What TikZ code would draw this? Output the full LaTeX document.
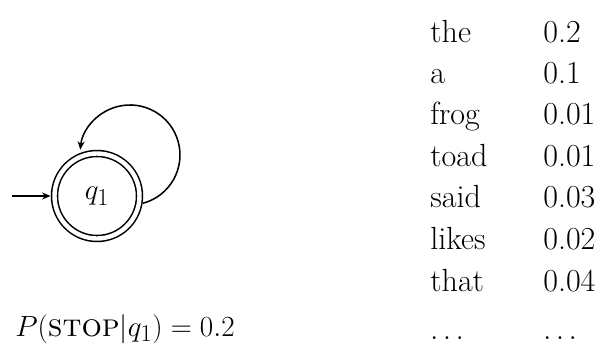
\documentclass[tikz,border=0pt]{standalone}
\usepackage{amsmath}
\usepackage{tikz}
\usetikzlibrary{positioning, arrows.meta}

\newcommand{\bigtxt}{\fontsize{22.8}{27}\selectfont}

\begin{document}
\begin{tikzpicture}[every node/.style={font=\bigtxt, inner sep=0pt},
    entry/.style={anchor=base west},
    >={Stealth[length=6pt, width=5pt]}]
  \useasboundingbox (0,0) rectangle (15.1,8.675);

  % State with its self loop
  \node[draw, circle, double, line width=1.1pt, double distance=0.11cm,
        minimum size=2.125cm, outer sep=0.1cm] (q1) at (2.425,3.775) {$q_1$};
  \coordinate (start) at (0.3,3.775);
  \draw[->, line width=1pt] (start) -- (q1);
  \draw[->, line width=1.1pt] (q1.-9) arc[start angle=-75, end angle=174, radius=1.25cm];

  \node[entry] (stop) at (0.375,0.275) {$P(\textsc{stop}|q_1) = 0.2$};

  % Emission probabilities
  \node[entry] (w1) at (10.75,7.625) {the};
  \node[entry] (p1) at (13.575,7.625) {0.2};
  \node[entry] (w2) at (10.75,6.6) {a};
  \node[entry] (p2) at (13.575,6.6) {0.1};
  \node[entry] (w3) at (10.75,5.575) {frog};
  \node[entry] (p3) at (13.575,5.575) {0.01};
  \node[entry] (w4) at (10.75,4.525) {toad};
  \node[entry] (p4) at (13.575,4.525) {0.01};
  \node[entry] (w5) at (10.75,3.5) {said};
  \node[entry] (p5) at (13.575,3.5) {0.03};
  \node[entry] (w6) at (10.75,2.45) {likes};
  \node[entry] (p6) at (13.575,2.45) {0.02};
  \node[entry] (w7) at (10.75,1.4) {that};
  \node[entry] (p7) at (13.575,1.4) {0.04};
  \node[entry] (w8) at (10.75,0.2) {$\ldots$};
  \node[entry] (p8) at (13.575,0.2) {$\ldots$};
\end{tikzpicture}
\end{document}
